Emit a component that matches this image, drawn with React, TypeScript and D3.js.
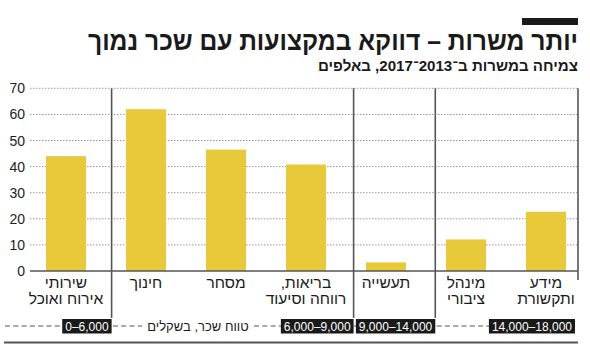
import React, { useEffect, useRef } from "react";
import * as d3 from "d3";

const categories: string[][] = [
  ["שירותי", "אירוח ואוכל"],
  ["חינוך"],
  ["מסחר"],
  ["בריאות,", "רווחה וסיעוד"],
  ["תעשייה"],
  ["מינהל", "ציבורי"],
  ["מידע", "ותקשורת"],
];
const values: number[] = [44, 62, 46.5, 40.8, 3.3, 12.1, 22.7];
const yTicks: number[] = [0, 10, 20, 30, 40, 50, 60, 70];
const rangeLabels: string[] = ["0–6,000", "6,000–9,000", "9,000–14,000", "14,000–18,000"];
// group boundary positions, in category-step units from the first bar's left edge
const groupBoundaries: number[] = [0.82, 3.845, 4.866, 6.65];
const title = "יותר משרות – דווקא במקצועות עם שכר נמוך";
const subtitle = "צמיחה במשרות ב־2013־2017, באלפים";
const rangeTitle = "טווח שכר, בשקלים";

const W = 590;
const H = 348;
const FONT = "'Liberation Sans', 'DejaVu Sans', sans-serif";

export default function App() {
  const ref = useRef<SVGSVGElement>(null);

  useEffect(() => {
    const svg = d3.select(ref.current);
    svg.selectAll("*").remove();

    const idx = categories.map((_, i) => String(i));
    const x = d3.scaleBand<string>().domain(idx).range([26, 586]).paddingInner(0.5).paddingOuter(0.25);
    const y = d3.scaleLinear().domain([0, 70]).range([271, 88.3]);
    const bx = d3.scaleLinear().domain([0, 1]).range([x("0")!, x("0")! + x.step()]);

    const left = 30;
    const right = bx(groupBoundaries[groupBoundaries.length - 1]);

    // header
    svg.append("rect").attr("x", right - 56).attr("y", 18).attr("width", 56).attr("height", 7).attr("fill", "#1a1a1a");
    svg.append("text").attr("x", right).attr("y", 50).attr("direction", "rtl").attr("text-anchor", "start")
      .attr("font-family", FONT).attr("font-weight", "bold").attr("font-size", 27).attr("fill", "#1a1a1a")
      .attr("textLength", 490).attr("lengthAdjust", "spacingAndGlyphs").text(title);
    svg.append("text").attr("x", right).attr("y", 71).attr("direction", "rtl").attr("text-anchor", "start")
      .attr("font-family", FONT).attr("font-weight", "bold").attr("font-size", 15).attr("fill", "#1a1a1a")
      .attr("textLength", 260).attr("lengthAdjust", "spacingAndGlyphs").text(subtitle);

    // grid
    svg.append("g").selectAll("line").data(yTicks.filter((t) => t > 0)).join("line")
      .attr("x1", left).attr("x2", right).attr("y1", (d) => y(d)).attr("y2", (d) => y(d))
      .attr("stroke", "#999").attr("stroke-width", 1).attr("stroke-dasharray", "1.5,1.5");
    svg.append("g").selectAll("text").data(yTicks).join("text")
      .attr("x", 25).attr("y", (d) => y(d)).attr("dy", "0.36em").attr("text-anchor", "end")
      .attr("font-family", FONT).attr("font-size", 14).attr("fill", "#222").text((d) => d);

    // bars
    svg.append("g").selectAll("rect").data(values).join("rect")
      .attr("x", (_, i) => x(String(i))!).attr("width", x.bandwidth())
      .attr("y", (d) => y(d)).attr("height", (d) => y(0) - y(d))
      .attr("fill", "#e8c93a");

    // axis line
    svg.append("line").attr("x1", left).attr("x2", right).attr("y1", y(0)).attr("y2", y(0))
      .attr("stroke", "#555").attr("stroke-width", 1.5);

    // separators
    svg.append("g").selectAll("line").data(groupBoundaries).join("line")
      .attr("x1", (d) => bx(d)).attr("x2", (d) => bx(d))
      .attr("y1", y(70)).attr("y2", (_, i) => (i === groupBoundaries.length - 1 ? 280 : 318))
      .attr("stroke", "#555").attr("stroke-width", 1.6);

    // category labels
    const lab = svg.append("g");
    categories.forEach((lines, i) => {
      const cx = x(String(i))! + x.bandwidth() / 2;
      lines.forEach((ln, j) => {
        lab.append("text").attr("x", cx).attr("y", 288 + j * 15.5).attr("direction", "rtl")
          .attr("text-anchor", "middle").attr("font-family", FONT).attr("font-size", 15.5)
          .attr("fill", "#1a1a1a").text(ln);
      });
    });

    // range row
    const ry = 326;
    svg.append("line").attr("x1", 5).attr("x2", right - 3).attr("y1", ry).attr("y2", ry)
      .attr("stroke", "#555").attr("stroke-width", 1).attr("stroke-dasharray", "5,3.3");

    const mask = svg.append("rect").attr("fill", "#fff");
    const rt = svg.append("text").attr("x", 198).attr("y", 331).attr("direction", "rtl")
      .attr("text-anchor", "middle").attr("font-family", FONT).attr("font-size", 13)
      .attr("fill", "#1a1a1a").text(rangeTitle);
    const rw = (rt.node() as SVGTextElement).getComputedTextLength();
    mask.attr("x", 198 - rw / 2 - 5).attr("y", ry - 3).attr("width", rw + 10).attr("height", 6);

    rangeLabels.forEach((lbl, i) => {
      const r = bx(groupBoundaries[i]) + (i === rangeLabels.length - 1 ? -3 : 0);
      const g = svg.append("g");
      const rect = g.append("rect").attr("y", 319).attr("height", 14.5).attr("fill", "#1a1a1a");
      const t = g.append("text").attr("x", r - 3).attr("y", 330.5).attr("text-anchor", "end")
        .attr("font-family", FONT).attr("font-size", 12).attr("fill", "#fff").text(lbl);
      const w = (t.node() as SVGTextElement).getComputedTextLength();
      rect.attr("x", r - w - 6).attr("width", w + 6);
    });

    // bottom rule
    svg.append("line").attr("x1", 4).attr("x2", right).attr("y1", 342.5).attr("y2", 342.5)
      .attr("stroke", "#555").attr("stroke-width", 2);
  }, []);

  return (
    <svg ref={ref} width={W} height={H} style={{ position: "absolute", left: 0, top: 0, background: "#fff" }} />
  );
}
